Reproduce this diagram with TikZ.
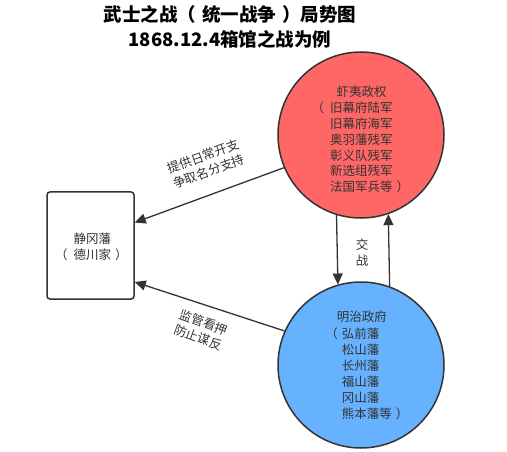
\documentclass[tikz,border=0pt]{standalone}
\usepackage{fontspec}
\setmainfont{Noto Sans CJK SC}
\usetikzlibrary{arrows.meta}
\definecolor{txt}{HTML}{333333}
\definecolor{redfill}{HTML}{FF6666}
\definecolor{bluefill}{HTML}{66B2FF}
\newcommand{\lpar}[1]{\llap{（\kern#1}}
\newcommand{\rpar}[1]{\rlap{\kern#1）}}
\tikzset{
  circ/.style={circle, draw=txt, line width=1.5pt, minimum size=166pt, inner sep=0pt},
  lbl/.style={text=txt, font=\fontsize{12.5}{15.9}\selectfont, align=center, inner sep=0pt},
  lbll/.style={lbl, align=left, anchor=west},
  conn/.style={draw=txt, line width=1.3pt, -{Triangle[length=11pt,width=10pt]}},
  boxst/.style={draw=txt, line width=1.5pt, rounded corners=3pt, minimum width=87pt, minimum height=107pt, fill=white}
}
\begin{document}
\begin{tikzpicture}[x=1pt,y=-1pt]
\useasboundingbox[fill=white] (0,0) rectangle (507,452);
% title
\node[text=black, font=\fontsize{18.5}{24.5}\selectfont\bfseries, align=center, inner sep=0pt] (title) at (230,27) {武士之战（\kern6pt 统一战争\kern6pt）局势图\\1868.12.4箱馆之战为例};
% circles
\node[circ, fill=redfill] (red) at (361,135) {};
\node[circ, fill=bluefill] (blue) at (361,365) {};
\node[boxst] (box) at (90.5,245.5) {};
% texts
\node[lbll] (redtxt) at (330,139.5) {\kern6.5pt 虾夷政权\\\lpar{6pt}旧幕府陆军\\旧幕府海军\\奥羽藩残军\\彰义队残军\\新选组残军\\法国军兵等\rpar{4pt}};
\node[lbll, font=\fontsize{12.5}{16.1}\selectfont] (bluetxt) at (341.7,365.5) {\kern-5pt 明治政府\\\lpar{4pt}弘前藩\\松山藩\\长州藩\\福山藩\\冈山藩\\熊本藩等\rpar{4pt}};
\node[lbl] (boxtxt) at (92.5,246.5) {静冈藩\\\lpar{6pt}德川家\rpar{4pt}};
% connectors
\draw[conn] (red.203) -- ([yshift=23pt]box.east);
\draw[conn] (blue.156) -- ([yshift=-36.5pt]box.east);
\draw[conn] (red.253.2) -- (blue.106.8);
\draw[conn] (blue.70.3) -- (red.289.7);
% edge labels
\node[lbl, rotate=20] (l1) at (206,164) {提供日常开支\\争取名分支持};
\node[lbl, rotate=-20] (l2) at (201,330) {监管看押\\防止谋反};
\node[lbl] (l3) at (362,253) {交\\战};
\end{tikzpicture}
\end{document}
